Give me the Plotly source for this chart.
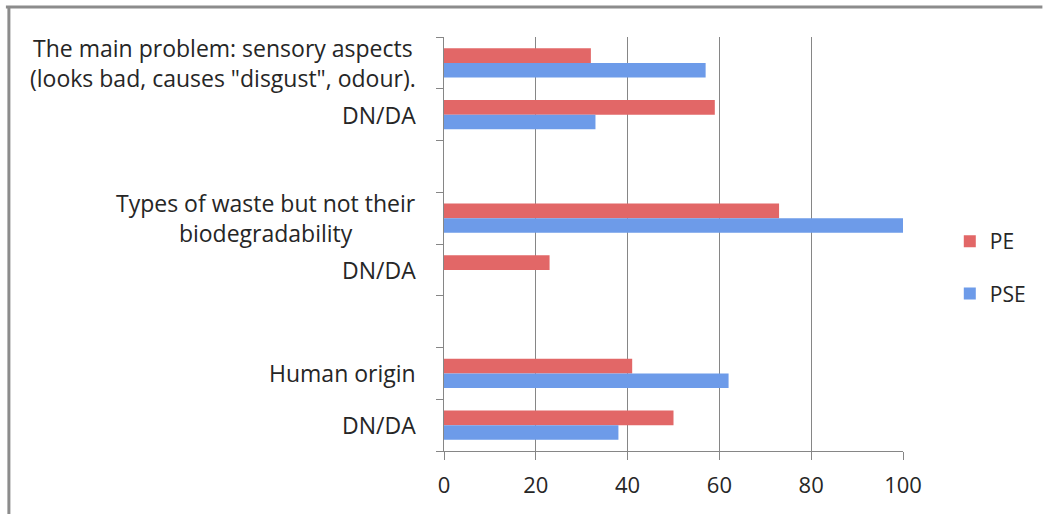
import plotly.graph_objects as go

# Data (top to bottom)
categories = [
    "The main problem: sensory aspects<br>(looks bad, causes \"disgust\", odour).",
    "DN/DA",
    "",
    "Types of waste but not their<br>biodegradability",
    "DN/DA",
    "",
    "Human origin",
    "DN/DA",
]
pe_values = [32, 59, None, 73, 23, None, 41, 50]
pse_values = [57, 33, None, 100, 0, None, 62, 38]
x_ticks = [0, 20, 40, 60, 80, 100]

positions = list(range(len(categories)))

FONT = "Open Sans"
TXT = "#262626"
GRAY = "#868686"

fig = go.Figure()
fig.add_trace(go.Bar(
    y=positions, x=pe_values, orientation="h", name="PE", legendgroup="a",
    marker=dict(color="#E26767", line=dict(width=0)),
))
fig.add_trace(go.Bar(
    y=positions, x=pse_values, orientation="h", name="PSE", legendgroup="b",
    marker=dict(color="#6D9BE9", line=dict(width=0)),
))

W, H = 1043, 514
L, R, T, B = 444, 138, 37, 63
pw, ph = W - L - R, H - T - B

def px(p):
    return (p - L) / pw

def py(q):
    return (H - B - q) / ph

boundaries = [i - 0.5 for i in range(len(categories) + 1)]

fig.update_layout(
    width=W, height=H,
    margin=dict(l=L, r=R, t=T, b=B, pad=0),
    paper_bgcolor="white", plot_bgcolor="white",
    barmode="group", bargap=0.43, bargroupgap=0,
    font=dict(family=FONT, size=22, color=TXT),
    showlegend=True,
    legend=dict(
        x=px(952), y=py(221), xanchor="left", yanchor="top",
        font=dict(family=FONT, size=21, color=TXT),
        tracegroupgap=22, bgcolor="rgba(0,0,0,0)",
    ),
    xaxis=dict(
        range=[0, 100], tickvals=x_ticks, ticks="outside", ticklen=8,
        tickcolor=GRAY, showgrid=True, gridcolor=GRAY, gridwidth=1,
        showline=True, linecolor=GRAY, linewidth=1, zeroline=False,
        tickfont=dict(family=FONT, size=22, color=TXT),
        ticklabelstandoff=7,
    ),
    yaxis=dict(
        range=[len(categories) - 0.5, -0.5], tickvals=boundaries,
        ticktext=["" for _ in boundaries], ticks="outside", ticklen=7,
        tickcolor=GRAY, showgrid=False, showline=True, linecolor=GRAY,
        linewidth=1, zeroline=False,
    ),
)

for pos, lab in zip(positions, categories):
    if lab:
        fig.add_annotation(
            x=0, xref="paper", y=pos, yref="y", text=lab, showarrow=False,
            xanchor="right", yanchor="middle", align="center", xshift=-26,
            font=dict(family=FONT, size=23, color=TXT),
        )

# outer frame (top and left edges visible)
fig.add_shape(type="line", xref="paper", yref="paper",
              x0=px(4), x1=px(1045), y0=py(7), y1=py(7),
              line=dict(color="#8C8C8C", width=3))
fig.add_shape(type="line", xref="paper", yref="paper",
              x0=px(7), x1=px(7), y0=py(6), y1=py(516),
              line=dict(color="#8C8C8C", width=3))

fig.write_html("out.html",
               config={"displayModeBar": False},
               post_script="document.body.style.margin='0';document.body.style.padding='0';")
